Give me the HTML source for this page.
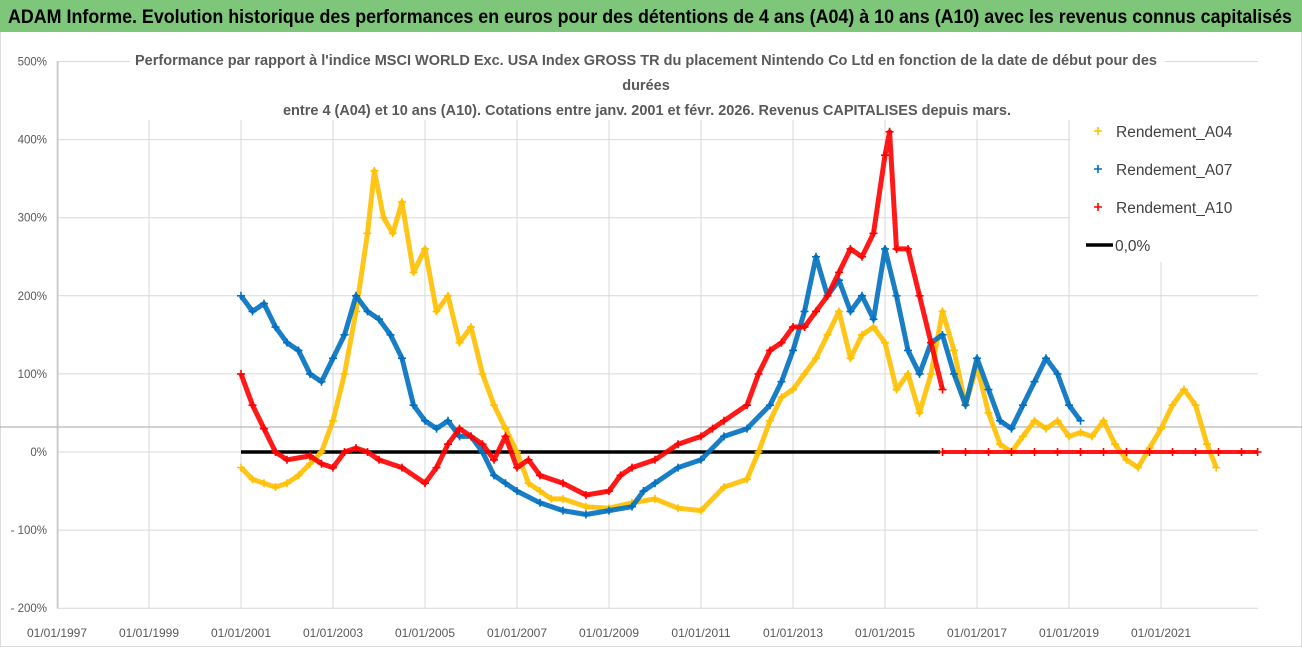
<!DOCTYPE html>
<html><head><meta charset="utf-8"><style>
html,body{margin:0;padding:0;background:#fff;width:1302px;height:647px;overflow:hidden}
svg{display:block;font-family:"Liberation Sans",sans-serif}
</style></head><body>
<svg id="chart" width="1302" height="647" viewBox="0 0 1302 647" xmlns="http://www.w3.org/2000/svg">
<rect x="0" y="0" width="1302" height="647" fill="#fff" stroke="#bbb"/>
<rect x="0" y="0" width="1302" height="32" fill="#7dc67a"/>
<text x="8" y="23" font-size="19" font-weight="bold" fill="#000" textLength="1284" lengthAdjust="spacingAndGlyphs">ADAM Informe. Evolution historique des performances en euros pour des détentions de 4 ans (A04) à 10 ans (A10) avec les revenus connus capitalisés</text>
<g id="grid"></g>
<g id="axes"></g>
<rect x="1070" y="112" width="190" height="150" fill="#fff"/>
<g id="series"></g>
<g font-size="14.5" font-weight="bold" fill="#595959" text-anchor="middle">
<rect x="130" y="46" width="1035" height="74" fill="#fff"/>
<text x="646" y="65" textLength="1022" lengthAdjust="spacingAndGlyphs">Performance par rapport à l'indice MSCI WORLD Exc. USA Index GROSS TR  du placement Nintendo Co Ltd en fonction de la date de début pour des</text>
<text x="646" y="90">durées</text>
<text x="647" y="115" textLength="728" lengthAdjust="spacingAndGlyphs">entre 4 (A04) et 10 ans (A10). Cotations entre janv. 2001 et févr. 2026. Revenus CAPITALISES depuis mars.</text>
</g>
<g id="legend" font-size="15.5" fill="#404040"></g>
</svg>
<script>
const yTicks=[500,400,300,200,100,0,-100,-200];
const yTickLabels=["500%","400%","300%","200%","100%","0%","- 100%","- 200%"];
const xTicks=[1997,1999,2001,2003,2005,2007,2009,2011,2013,2015,2017,2019,2021];
const xTickLabels=["01/01/1997","01/01/1999","01/01/2001","01/01/2003","01/01/2005","01/01/2007","01/01/2009","01/01/2011","01/01/2013","01/01/2015","01/01/2017","01/01/2019","01/01/2021"];
const refLineValue=32;
const zeroLineRange=[2001,2016.2];
const a04Dates=[2001,2001.25,2001.5,2001.75,2002,2002.25,2002.5,2002.75,2003,2003.25,2003.5,2003.75,2003.9,2004.1,2004.3,2004.5,2004.75,2005,2005.25,2005.5,2005.75,2006,2006.25,2006.5,2006.75,2007,2007.25,2007.5,2007.75,2008,2008.5,2009,2009.5,2010,2010.5,2011,2011.5,2012,2012.25,2012.5,2012.75,2013,2013.25,2013.5,2013.75,2014,2014.25,2014.5,2014.75,2015,2015.25,2015.5,2015.75,2016,2016.25,2016.5,2016.75,2017,2017.25,2017.5,2017.75,2018,2018.25,2018.5,2018.75,2019,2019.25,2019.5,2019.75,2020,2020.25,2020.5,2020.75,2021,2021.25,2021.5,2021.75,2022,2022.2];
const a04Values=[-20,-35,-40,-45,-40,-30,-15,0,40,100,180,280,360,300,280,320,230,260,180,200,140,160,100,60,30,0,-40,-50,-60,-60,-70,-72,-65,-60,-72,-75,-45,-35,0,40,70,80,100,120,150,180,120,150,160,140,80,100,50,100,180,130,60,110,50,10,0,20,40,30,40,20,25,20,40,10,-10,-20,5,30,60,80,60,10,-20];
const a07Dates=[2001,2001.25,2001.5,2001.75,2002,2002.25,2002.5,2002.75,2003,2003.25,2003.5,2003.75,2004,2004.25,2004.5,2004.75,2005,2005.25,2005.5,2005.75,2006,2006.25,2006.5,2006.75,2007,2007.5,2008,2008.5,2009,2009.5,2009.75,2010,2010.5,2011,2011.5,2012,2012.5,2012.75,2013,2013.25,2013.5,2013.75,2014,2014.25,2014.5,2014.75,2015,2015.25,2015.5,2015.75,2016,2016.25,2016.5,2016.75,2017,2017.25,2017.5,2017.75,2018,2018.25,2018.5,2018.75,2019,2019.25];
const a07Values=[200,180,190,160,140,130,100,90,120,150,200,180,170,150,120,60,40,30,40,20,20,0,-30,-40,-50,-65,-75,-80,-75,-70,-50,-40,-20,-10,20,30,60,90,130,180,250,200,220,180,200,170,260,200,130,100,140,150,100,60,120,80,40,30,60,90,120,100,60,40];
const a10Dates=[2001,2001.25,2001.5,2001.75,2002,2002.5,2002.75,2003,2003.25,2003.5,2003.75,2004,2004.5,2005,2005.25,2005.5,2005.75,2006,2006.25,2006.5,2006.75,2007,2007.25,2007.5,2008,2008.5,2009,2009.25,2009.5,2010,2010.5,2011,2011.25,2011.5,2012,2012.25,2012.5,2012.75,2013,2013.25,2013.5,2013.75,2014,2014.25,2014.5,2014.75,2015,2015.1,2015.25,2015.5,2015.75,2016,2016.25];
const a10Values=[100,60,30,0,-10,-5,-15,-20,0,5,0,-10,-20,-40,-20,10,30,20,10,-10,20,-20,-10,-30,-40,-55,-50,-30,-20,-10,10,20,30,40,60,100,130,140,160,160,180,200,230,260,250,280,380,410,260,260,200,140,80];
const a10ZeroDates=[2016.25,2016.75,2017.25,2017.75,2018.25,2018.75,2019.25,2019.75,2020.25,2020.75,2021.25,2021.75,2022.25,2022.75,2023.1];
const a10ZeroValues=[0,0,0,0,0,0,0,0,0,0,0,0,0,0,0];

const NS="http://www.w3.org/2000/svg";
const X0=57, XS=46, Y0=452, YS=0.781;
const xScale=d=>X0+(d-1997)*XS;
const yScale=v=>Y0-v*YS;
function mk(tag,parent,attrs){const e=document.createElementNS(NS,tag);for(const k in attrs)e.setAttribute(k,attrs[k]);parent.appendChild(e);return e;}
const grid=document.getElementById('grid'), axes=document.getElementById('axes');
yTicks.forEach((v,i)=>{
  const l=mk('line',grid,{x1:X0,x2:1258,y1:yScale(v),y2:yScale(v),stroke:'#d9d9d9','stroke-width':1});
  
  
  const t=mk('text',axes,{x:47,y:yScale(v)+4,'font-size':11.5,fill:'#595959','text-anchor':'end'});
  t.textContent=yTickLabels[i];
  
  
});
xTicks.forEach((d,i)=>{
  const l=mk('line',grid,{x1:xScale(d),x2:xScale(d),y1:yScale(500),y2:yScale(-200),stroke:'#d9d9d9','stroke-width':1});
  
  
  const t=mk('text',axes,{x:xScale(d),y:637,'font-size':12,fill:'#595959','text-anchor':'middle'});
  t.textContent=xTickLabels[i];
  
  
});
const ax=mk('line',axes,{x1:X0+1,x2:X0+1,y1:yScale(500),y2:yScale(-200),stroke:'#bfbfbf','stroke-width':1});


const ref=mk('line',grid,{x1:0,x2:1302,y1:yScale(refLineValue),y2:yScale(refLineValue),stroke:'#a6a6a6','stroke-width':1});



const series=document.getElementById('series');
const zl=mk('line',series,{x1:xScale(zeroLineRange[0]),x2:xScale(zeroLineRange[1]),y1:yScale(0),y2:yScale(0),stroke:'#000','stroke-width':3.5});


function drawSeries(dates,vals,color,name,lw){
  const g=mk('g',series,{});
  
  
  const pts=dates.map((d,i)=>xScale(d).toFixed(1)+','+yScale(vals[i]).toFixed(1)).join(' ');
  mk('polyline',g,{points:pts,fill:'none',stroke:color,'stroke-width':lw,'stroke-linejoin':'round','stroke-opacity':0.9});
  dates.forEach((d,i)=>{
    const x=xScale(d), y=yScale(vals[i]);
    const p=mk('path',g,{d:`M${x-4},${y}H${x+4}M${x},${y-4}V${y+4}`,stroke:color,'stroke-width':1.6});
    
    
  });
}
drawSeries(a04Dates,a04Values,'#ffc000','series-a04',5);
drawSeries(a07Dates,a07Values,'#0070c0','series-a07',5);
drawSeries(a10Dates,a10Values,'#ff0000','series-a10',5);
drawSeries(a10ZeroDates,a10ZeroValues,'#ff0000','series-a10-zero',4);

const legend=document.getElementById('legend');
const legItems=[["Rendement_A04","#ffc000",131],["Rendement_A07","#0070c0",169],["Rendement_A10","#ff0000",207]];
legItems.forEach(it=>{
  const g=mk('g',legend,{});
  
  
  mk('path',g,{d:`M${1094},${it[2]}H${1102}M${1098},${it[2]-4}V${it[2]+4}`,stroke:it[1],'stroke-width':1.6});
  const t=mk('text',g,{x:1116,y:it[2]+6});
  t.textContent=it[0];
});
const g0=mk('g',legend,{});


mk('line',g0,{x1:1086,x2:1113,y1:245,y2:245,stroke:'#000','stroke-width':3.5});
const t0=mk('text',g0,{x:1115,y:251});
t0.textContent="0,0%";
</script>
</body></html>
